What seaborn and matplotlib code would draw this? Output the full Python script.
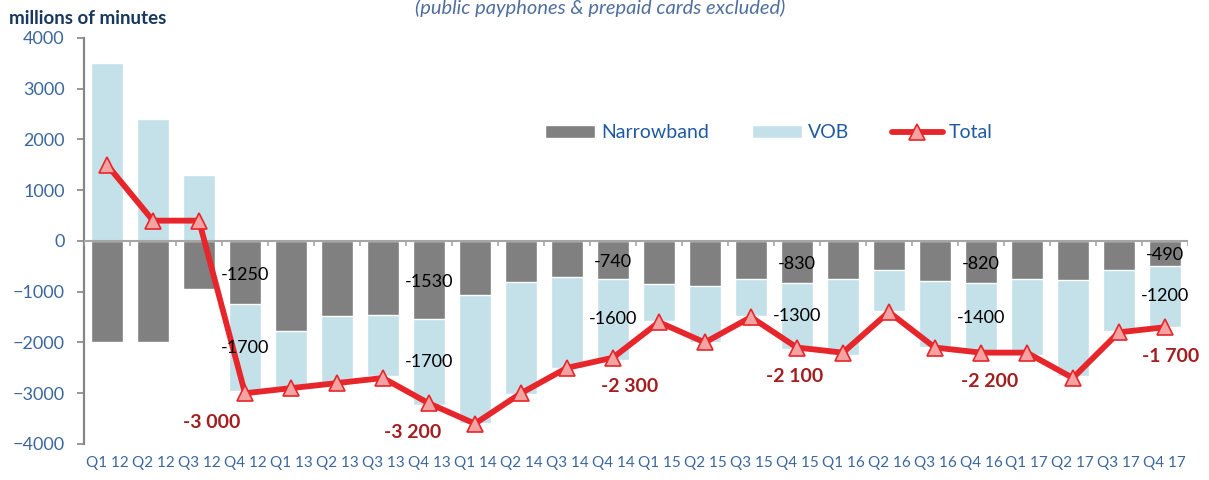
import numpy as np
import pandas as pd
import matplotlib
matplotlib.use("Agg")
import matplotlib.pyplot as plt
import seaborn as sns

# data (millions of minutes)
quarters = ["Q1 12", "Q2 12", "Q3 12", "Q4 12",
            "Q1 13", "Q2 13", "Q3 13", "Q4 13",
            "Q1 14", "Q2 14", "Q3 14", "Q4 14",
            "Q1 15", "Q2 15", "Q3 15", "Q4 15",
            "Q1 16", "Q2 16", "Q3 16", "Q4 16",
            "Q1 17", "Q2 17", "Q3 17", "Q4 17"]
narrowband = [-2000, -2000, -950, -1250,
              -1780, -1470, -1460, -1530,
              -1060, -800, -710, -740,
              -850, -880, -750, -830,
              -750, -580, -780, -820,
              -740, -760, -570, -490]
vob = [3500, 2400, 1300, -1700,
       -1120, -1330, -1200, -1700,
       -2520, -2220, -1800, -1600,
       -720, -1120, -720, -1300,
       -1500, -800, -1310, -1400,
       -1500, -1900, -1200, -1200]
total = [1500, 400, 400, -3000,
         -2900, -2800, -2700, -3200,
         -3600, -3000, -2500, -2300,
         -1600, -2000, -1500, -2100,
         -2200, -1400, -2100, -2200,
         -2200, -2700, -1800, -1700]
labelled = [3, 7, 11, 15, 19, 23]   # Q4 of each year carries value labels
total_text = ["-3 000", "-3 200", "-2 300", "-2 100", "-2 200", "-1 700"]
total_dx = [-24, -12, 12, -2, 6, 4]  # small nudges, points

df = pd.DataFrame({"quarter": quarters, "nb": narrowband, "vob": vob})
# VOB stacks under narrowband when negative, stands alone above zero when positive
df["stack"] = np.where(df["vob"] < 0, df["nb"] + df["vob"], df["vob"])

GREY = "#808080"
LIGHT = "#c4e1ea"
RED = "#e6262a"
DARKRED = "#a51d1f"
TICKBLUE = "#3b679e"
NAVY = "#17375e"

sns.set_theme(style="white")
plt.rcParams["font.family"] = ["Lato", "DejaVu Sans"]

fig = plt.figure(figsize=(12.09, 4.8), dpi=100)
ax = fig.add_axes([0.0695, 0.075, 0.913, 0.846])

sns.barplot(data=df, x="quarter", y="stack", order=quarters, color=LIGHT,
            saturation=1, width=0.7, label="VOB", ax=ax)
sns.barplot(data=df, x="quarter", y="nb", order=quarters, color=GREY,
            saturation=1, width=0.7, label="Narrowband", ax=ax)
sns.lineplot(x=np.arange(len(quarters)), y=total, color=RED, lw=4.2,
             marker="^", ms=11, mfc="#f4a3a3", mec=RED, mew=1.2,
             label="Total", ax=ax, zorder=4)

n = len(quarters)
ax.set_xlim(-0.5, n - 0.5)
ax.set_ylim(-4000, 4000)
ax.set_yticks(np.arange(-4000, 4001, 1000))
ax.set_xticks(np.arange(n))
ax.set_xticklabels(quarters)
ax.set_xlabel("")
ax.set_ylabel("")

# zero line with small category separators
ax.axhline(0, color="#a6a6a6", lw=1.5, zorder=3)
ax.vlines(np.arange(n + 1) - 0.5, -100, 0, color="#a6a6a6", lw=1.2, zorder=3)

for s in ["top", "right", "bottom"]:
    ax.spines[s].set_visible(False)
ax.spines["left"].set_color("#868686")
ax.spines["left"].set_linewidth(1.6)
ax.tick_params(axis="y", length=5, width=1.2, color="#868686", pad=9,
               labelsize=13, labelcolor=TICKBLUE, left=True)
ax.tick_params(axis="x", length=0, pad=9, labelsize=11, labelcolor=TICKBLUE)

# value labels
for j, i in enumerate(labelled):
    ax.text(i, narrowband[i] / 2 - 40, str(narrowband[i]), ha="center",
            va="center", fontsize=13, color="black", zorder=5)
    ax.text(i, narrowband[i] + vob[i] / 2, str(vob[i]), ha="center",
            va="center", fontsize=13, color="black", zorder=5)
    ax.annotate(total_text[j], (i, total[i]), xytext=(total_dx[j], -21),
                textcoords="offset points", ha="center", va="center",
                fontsize=14, fontweight="bold", color=DARKRED, zorder=5)

h, l = ax.get_legend_handles_labels()
order = [l.index("Narrowband"), l.index("VOB"), l.index("Total")]
leg = ax.legend([h[k] for k in order], [l[k] for k in order], ncol=3,
                loc="center", bbox_to_anchor=(0.62, 0.766), frameon=False,
                fontsize=14, handlelength=2.6, handleheight=0.6,
                handletextpad=0.3, columnspacing=2.2)
for t in leg.get_texts():
    t.set_color("#1f5aa0")

fig.text(0.0075, 1 - 18 / 480, "millions of minutes", fontsize=13.5,
         fontweight="bold", color=NAVY, va="center", ha="left")
fig.text(600 / 1209, 1 - 8 / 480, "(public payphones & prepaid cards excluded)",
         fontsize=14.5, style="italic", color="#4f6f9f", va="center", ha="center")

fig.savefig("out.png", dpi=100)
